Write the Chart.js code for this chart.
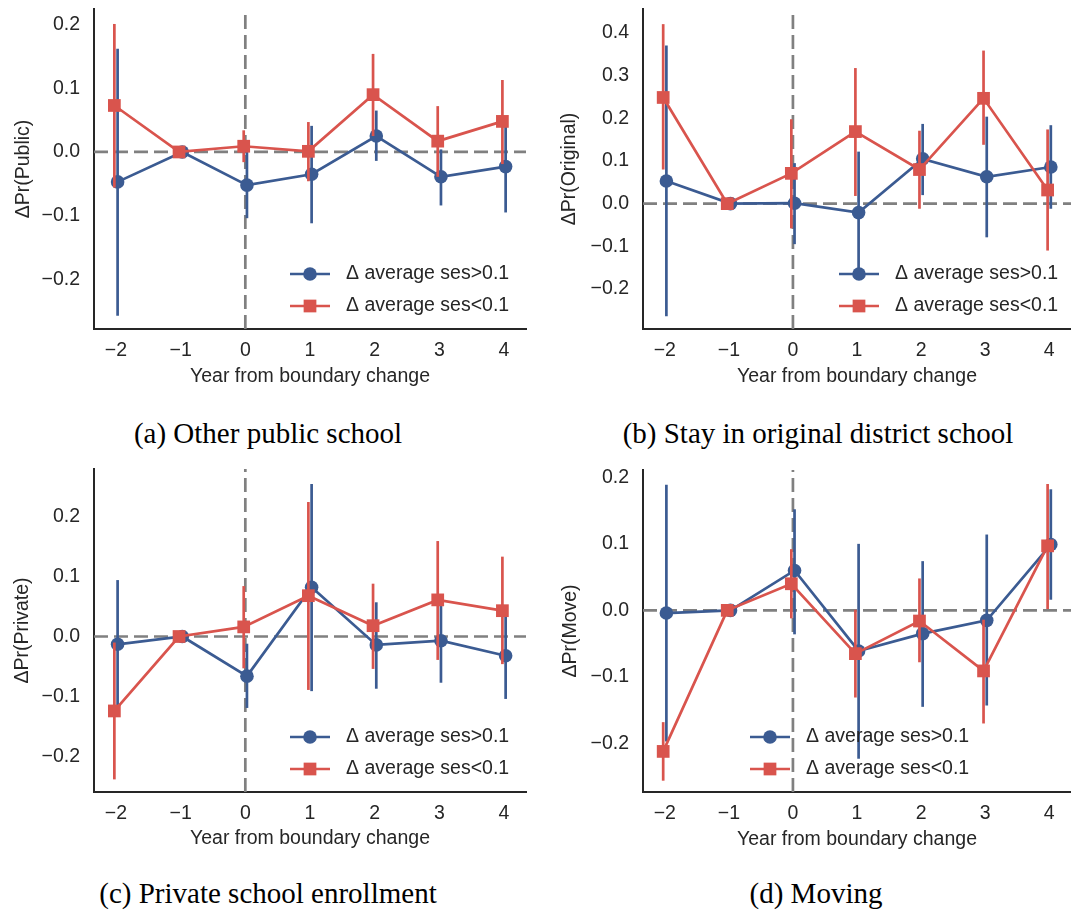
<!DOCTYPE html>
<html>
<head>
<meta charset="utf-8">
<script src="https://cdn.jsdelivr.net/npm/chart.js@4.4.1/dist/chart.umd.min.js"></script>
<style>
  html, body { margin: 0; padding: 0; background: #fff; overflow: hidden; }
  body { width: 1071px; height: 915px; position: relative; }
  canvas { position: absolute; }
  .cap {
    position: absolute; white-space: nowrap; line-height: 1;
    font-family: "Liberation Serif", "Times New Roman", serif; font-size: 29px; color: #000;
    transform: translate(-50%, -50%);
  }
</style>
</head>
<body>
<canvas id="ca" width="535" height="400" style="left:0;top:0"></canvas>
<canvas id="cb" width="545" height="400" style="left:535px;top:0"></canvas>
<canvas id="cc" width="535" height="400" style="left:0;top:460px"></canvas>
<canvas id="cd" width="545" height="400" style="left:535px;top:460px"></canvas>
<div class="cap" style="left:268px;top:433px">(a) Other public school</div>
<div class="cap" style="left:818px;top:433px">(b) Stay in original district school</div>
<div class="cap" style="left:268px;top:893px">(c) Private school enrollment</div>
<div class="cap" style="left:816px;top:893px">(d) Moving</div>
<script>
// Event-study estimates by year relative to the boundary change.
// Year -1 is the reference year (normalised to zero, no interval).
const years = [-2, -1, 0, 1, 2, 3, 4];
const yearLabels = ['\u22122', '\u22121', '0', '1', '2', '3', '4'];
const seriesNames = ['\u0394 average ses>0.1', '\u0394 average ses<0.1'];

// (a) Other public school
const publicHigh   = [-0.047, 0, -0.052, -0.035,  0.025, -0.039, -0.023];
const publicHighLo = [-0.257, null, -0.104, -0.112, -0.014, -0.084, -0.095];
const publicHighHi = [ 0.162, null,  0.000,  0.041,  0.065,  0.004,  0.042];
const publicLow    = [ 0.073, 0,  0.009,  0.001,  0.090,  0.017,  0.048];
const publicLowLo  = [-0.056, null, -0.016, -0.046,  0.025, -0.039, -0.019];
const publicLowHi  = [ 0.201, null,  0.034,  0.047,  0.154,  0.072,  0.113];
const publicTicks  = [-0.2, -0.1, 0, 0.1, 0.2];

// (b) Stay in original district school
const originalHigh   = [ 0.053, 0,  0.001, -0.021,  0.105,  0.063,  0.086];
const originalHighLo = [-0.264, null, -0.095, -0.164,  0.020, -0.079, -0.012];
const originalHighHi = [ 0.371, null,  0.095,  0.122,  0.187,  0.204,  0.184];
const originalLow    = [ 0.249, 0,  0.071,  0.169,  0.080,  0.247,  0.032];
const originalLowLo  = [ 0.080, null, -0.058,  0.018, -0.012,  0.138, -0.110];
const originalLowHi  = [ 0.421, null,  0.198,  0.318,  0.171,  0.359,  0.174];
const originalTicks  = [-0.2, -0.1, 0, 0.1, 0.2, 0.3, 0.4];

// (c) Private school enrollment
const privateHigh   = [-0.013, 0, -0.066,  0.082, -0.014, -0.007, -0.032];
const privateHighLo = [-0.116, null, -0.119, -0.091, -0.087, -0.077, -0.104];
const privateHighHi = [ 0.094, null, -0.012,  0.254,  0.057,  0.065,  0.037];
const privateLow    = [-0.124, 0,  0.016,  0.068,  0.018,  0.061,  0.043];
const privateLowLo  = [-0.238, null, -0.053, -0.089, -0.054, -0.039, -0.046];
const privateLowHi  = [-0.010, null,  0.084,  0.224,  0.088,  0.159,  0.133];
const privateTicks  = [-0.2, -0.1, 0, 0.1, 0.2];

// (d) Moving
const moveHigh   = [-0.004, 0,  0.060, -0.061, -0.035, -0.015,  0.099];
const moveHighLo = [-0.197, null, -0.036, -0.223, -0.145, -0.143,  0.016];
const moveHighHi = [ 0.189, null,  0.152,  0.100,  0.074,  0.114,  0.182];
const moveLow    = [-0.212, 0,  0.040, -0.065, -0.016, -0.091,  0.097];
const moveLowLo  = [-0.256, null, -0.012, -0.131, -0.078, -0.170,  0.002];
const moveLowHi  = [-0.168, null,  0.092,  0.001,  0.048, -0.014,  0.190];
const moveTicks  = [-0.2, -0.1, 0, 0.1, 0.2];

const BLUE = '#3b5b92';
const RED = '#d9544d';
const INK = '#262626';
const FONT = '"Liberation Sans", Arial, sans-serif';
const FS = 19.5;
const DODGE = 0.025;

const minus = s => s.replace('-', '\u2212');

// Vertical confidence intervals, drawn just under each series' line and markers.
const errorBars = {
  id: 'errorBars',
  beforeDatasetDraw(chart, args) {
    const ds = chart.data.datasets[args.index];
    if (!ds.errLo) return;
    const { ctx, scales: { x, y } } = chart;
    ctx.save();
    ctx.strokeStyle = ds.borderColor;
    ctx.lineWidth = ds.borderWidth;
    ds.data.forEach((p, i) => {
      const lo = ds.errLo[i], hi = ds.errHi[i];
      if (lo == null || hi == null) return;
      const px = x.getPixelForValue(p.x);
      ctx.beginPath();
      ctx.moveTo(px, y.getPixelForValue(lo));
      ctx.lineTo(px, y.getPixelForValue(hi));
      ctx.stroke();
    });
    ctx.restore();
  }
};

// Dashed zero lines: y = 0 and the year of the boundary change.
const zeroLines = {
  id: 'zeroLines',
  beforeDatasetsDraw(chart) {
    const { ctx, chartArea: a, scales: { x, y } } = chart;
    ctx.save();
    ctx.beginPath();
    ctx.rect(a.left, a.top, a.right - a.left, a.bottom - a.top);
    ctx.clip();
    ctx.strokeStyle = '#808080';
    ctx.lineWidth = 2.7;
    ctx.setLineDash([14, 6]);
    const y0 = y.getPixelForValue(0);
    ctx.beginPath(); ctx.moveTo(a.left, y0); ctx.lineTo(a.right, y0); ctx.stroke();
    const x0 = x.getPixelForValue(0);
    ctx.beginPath(); ctx.moveTo(x0, a.bottom); ctx.lineTo(x0, a.top); ctx.stroke();
    ctx.restore();
  }
};

// Frameless legend inside the plot area.
const insetLegend = {
  id: 'insetLegend',
  afterDatasetsDraw(chart, args, opts) {
    const { ctx, chartArea: a } = chart;
    const x0 = a.left + opts.dx;
    const y0 = a.bottom - opts.dy;
    chart.data.datasets.forEach((ds, i) => {
      const yy = y0 + i * opts.rowGap;
      ctx.save();
      ctx.strokeStyle = ds.borderColor;
      ctx.lineWidth = ds.borderWidth;
      ctx.beginPath(); ctx.moveTo(x0, yy); ctx.lineTo(x0 + opts.handle, yy); ctx.stroke();
      ctx.fillStyle = ds.pointBackgroundColor;
      const cx = x0 + opts.handle / 2;
      ctx.beginPath();
      if (ds.pointStyle === 'rect') {
        const h = ds.pointRadius * Math.SQRT1_2;
        ctx.rect(cx - h, yy - h, 2 * h, 2 * h);
      } else {
        ctx.arc(cx, yy, ds.pointRadius, 0, Math.PI * 2);
      }
      ctx.fill();
      ctx.fillStyle = INK;
      ctx.font = FS + 'px ' + FONT;
      ctx.textBaseline = 'middle';
      ctx.textAlign = 'left';
      ctx.fillText(ds.label, x0 + opts.textGap, yy);
      ctx.restore();
    });
  }
};

function series(label, vals, lo, hi, color, style, radius, offset, order) {
  return {
    label,
    data: years.map((yr, i) => ({ x: yr + offset, y: vals[i] })),
    errLo: lo, errHi: hi,
    borderColor: color, backgroundColor: color,
    pointBackgroundColor: color, pointBorderColor: color,
    pointBorderWidth: 0, pointStyle: style, pointRadius: radius, pointHoverRadius: radius,
    borderWidth: 2.7, tension: 0, clip: false, order
  };
}

function makePanel(cfg) {
  const canvas = document.getElementById(cfg.id);
  const W = canvas.width, H = canvas.height;
  const A = cfg.area;
  return new Chart(canvas, {
    type: 'line',
    data: {
      datasets: [
        series(seriesNames[0], cfg.high, cfg.highLo, cfg.highHi, BLUE, 'circle', 6.8, DODGE, 2),
        series(seriesNames[1], cfg.low, cfg.lowLo, cfg.lowHi, RED, 'rect', 9, -DODGE, 1)
      ]
    },
    options: {
      responsive: false,
      animation: false,
      events: [],
      layout: { padding: { top: A.top, right: W - A.right, left: 0, bottom: 0 } },
      plugins: {
        legend: { display: false },
        tooltip: { enabled: false },
        insetLegend: { dx: cfg.legendDx, dy: 55, rowGap: 32, handle: 40, textGap: 56 }
      },
      scales: {
        x: {
          type: 'linear', min: -2.34, max: 4.34,
          afterBuildTicks: s => { s.ticks = years.map(v => ({ value: v })); },
          afterFit: s => { s.height = H - A.bottom; s.paddingLeft = 0; s.paddingRight = 0; },
          grid: { display: false, drawTicks: false },
          border: { display: true, color: INK, width: 2 },
          ticks: {
            padding: cfg.xTickPad, color: INK, font: { family: FONT, size: FS },
            maxRotation: 0, autoSkip: false,
            callback: v => yearLabels[years.indexOf(v)]
          },
          title: {
            display: true, text: 'Year from boundary change', color: INK,
            font: { family: FONT, size: FS }, padding: { top: 0, bottom: cfg.xTitlePad }
          }
        },
        y: {
          type: 'linear', min: cfg.yMin, max: cfg.yMax,
          afterBuildTicks: s => { s.ticks = cfg.yTicks.map(v => ({ value: v })); },
          afterFit: s => { s.width = A.left; s.paddingTop = 0; s.paddingBottom = 0; },
          grid: { display: false, drawTicks: false },
          border: { display: true, color: INK, width: 2 },
          ticks: {
            padding: 14, color: INK, font: { family: FONT, size: FS },
            callback: v => minus(v.toFixed(1))
          },
          title: {
            display: true, text: cfg.yTitle, color: INK,
            font: { family: FONT, size: FS }, padding: { top: cfg.yTitlePad, bottom: 0 }
          }
        }
      }
    },
    plugins: [zeroLines, errorBars, insetLegend]
  });
}

makePanel({
  id: 'ca', yTitle: '\u0394Pr(Public)', yMin: -0.278, yMax: 0.2245, yTicks: publicTicks,
  high: publicHigh, highLo: publicHighLo, highHi: publicHighHi,
  low: publicLow, lowLo: publicLowLo, lowHi: publicLowHi,
  area: { left: 94, top: 5, right: 526, bottom: 329 },
  yTitlePad: 12, xTickPad: 10, xTitlePad: 12, legendDx: 196
});
makePanel({
  id: 'cb', yTitle: '\u0394Pr(Original)', yMin: -0.294, yMax: 0.4565, yTicks: originalTicks,
  high: originalHigh, highLo: originalHighLo, highHi: originalHighHi,
  low: originalLow, lowLo: originalLowLo, lowHi: originalLowHi,
  area: { left: 108, top: 5, right: 540, bottom: 329 },
  yTitlePad: 23, xTickPad: 10, xTitlePad: 12, legendDx: 196
});
makePanel({
  id: 'cc', yTitle: '\u0394Pr(Private)', yMin: -0.259, yMax: 0.279, yTicks: privateTicks,
  high: privateHigh, highLo: privateHighLo, highHi: privateHighHi,
  low: privateLow, lowLo: privateLowLo, lowHi: privateLowHi,
  area: { left: 94, top: 8, right: 526, bottom: 332 },
  yTitlePad: 11, xTickPad: 10, xTitlePad: 10, legendDx: 196
});
makePanel({
  id: 'cd', yTitle: '\u0394Pr(Move)', yMin: -0.273, yMax: 0.211, yTicks: moveTicks,
  high: moveHigh, highLo: moveHighLo, highHi: moveHighHi,
  low: moveLow, lowLo: moveLowLo, lowHi: moveLowHi,
  area: { left: 108, top: 10, right: 540, bottom: 332 },
  yTitlePad: 24, xTickPad: 10, xTitlePad: 9, legendDx: 107
});
</script>
</body>
</html>
